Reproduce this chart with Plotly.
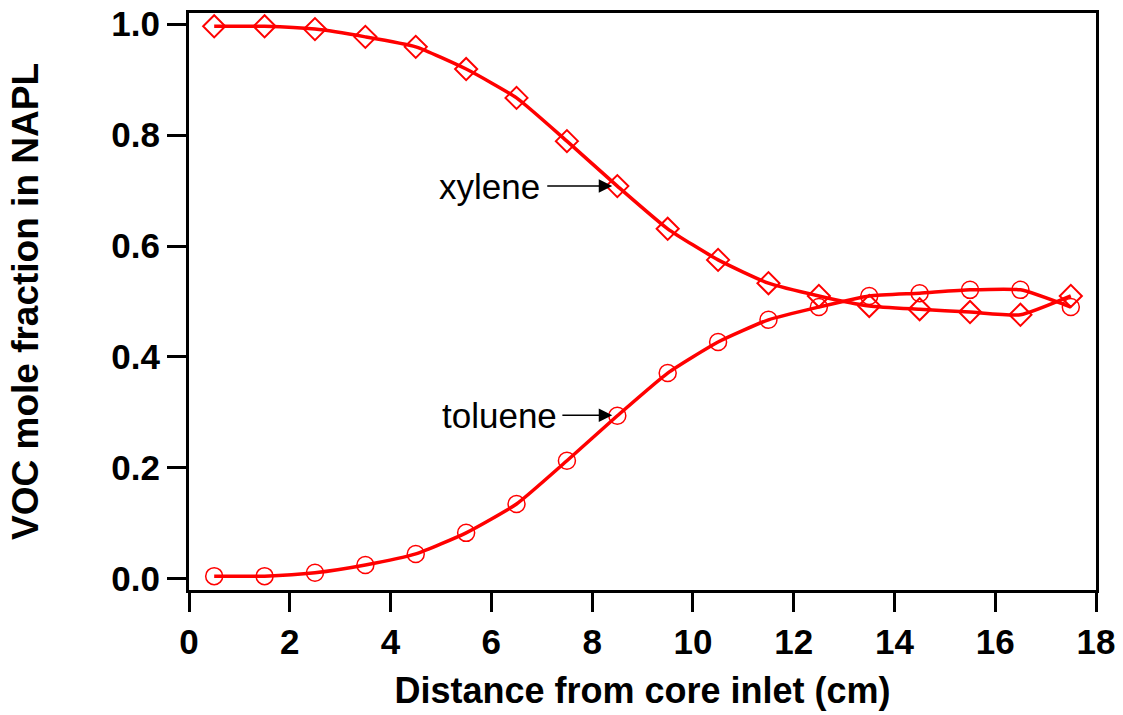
import plotly.graph_objects as go

distance_cm = [0.5, 1.5, 2.5, 3.5, 4.5, 5.5, 6.5, 7.5, 8.5, 9.5,
               10.5, 11.5, 12.5, 13.5, 14.5, 15.5, 16.5, 17.5]
xylene_frac = [0.996, 0.996, 0.991, 0.977, 0.959, 0.919, 0.867, 0.789, 0.708, 0.631,
               0.575, 0.533, 0.510, 0.492, 0.486, 0.481, 0.476, 0.510]
toluene_frac = [0.005, 0.005, 0.011, 0.025, 0.045, 0.083, 0.135, 0.213, 0.294, 0.371,
                0.427, 0.467, 0.490, 0.510, 0.515, 0.521, 0.521, 0.490]

x_ticks = [0, 2, 4, 6, 8, 10, 12, 14, 16, 18]
y_ticks = [0.0, 0.2, 0.4, 0.6, 0.8, 1.0]
y_tick_text = ["0.0", "0.2", "0.4", "0.6", "0.8", "1.0"]

RED = "#ff0000"
FONT = "Liberation Sans, Arial, sans-serif"

fig = go.Figure()
fig.add_trace(go.Scatter(
    x=distance_cm, y=xylene_frac, name="xylene", mode="lines+markers",
    line=dict(color=RED, width=3.5, shape="spline", smoothing=0.5),
    marker=dict(symbol="diamond-open", size=17, color=RED, line=dict(width=2, color=RED)),
))
fig.add_trace(go.Scatter(
    x=distance_cm, y=toluene_frac, name="toluene", mode="lines+markers",
    line=dict(color=RED, width=3.5, shape="spline", smoothing=0.5),
    marker=dict(symbol="circle-open", size=17, color=RED, line=dict(width=1.5, color=RED)),
))

# labels with arrows
for label, tx, tip_x, tail_x, yv in [("xylene", 5.96, 8.40, 7.08, 0.708),
                                       ("toluene", 6.17, 8.40, 7.38, 0.295)]:
    fig.add_annotation(x=tx, y=yv, xref="x", yref="y", text=label, showarrow=False,
                       font=dict(family=FONT, size=35, color="black"))
    fig.add_annotation(x=tip_x, y=yv, ax=tail_x, ay=yv, xref="x", yref="y",
                       axref="x", ayref="y", text="", showarrow=True,
                       arrowhead=2, arrowsize=1.8, arrowwidth=1.5, arrowcolor="black",
                       standoff=0)

axis_common = dict(
    showline=True, linecolor="black", linewidth=3, mirror=True,
    ticks="outside", ticklen=19, tickwidth=3, tickcolor="black",
    showgrid=False, zeroline=False, automargin=False,
    ticklabeloverflow="allow",
    tickfont=dict(family=FONT, size=35, color="black", weight="bold"),
)

fig.update_layout(
    width=1123, height=715,
    margin=dict(l=189, r=27, t=13, b=125),
    paper_bgcolor="white", plot_bgcolor="white",
    showlegend=False,
    xaxis=dict(range=[0, 18], tickvals=x_ticks,
               title=dict(text="<b>Distance from core inlet (cm)</b>", standoff=18,
                          font=dict(family=FONT, size=36, color="black")),
               **axis_common),
    yaxis=dict(range=[-0.02, 1.02], tickvals=y_ticks, ticktext=y_tick_text,
               title=dict(text="<b>VOC mole fraction in NAPL</b>", standoff=62,
                          font=dict(family=FONT, size=37, color="black")),
               **axis_common),
)

# remove the browser's default 8px body margin so the figure fills the window exactly
fig.write_html("out.html",
               config={"displayModeBar": False, "staticPlot": True},
               post_script="document.body.style.margin='0';document.body.style.overflow='hidden';")
